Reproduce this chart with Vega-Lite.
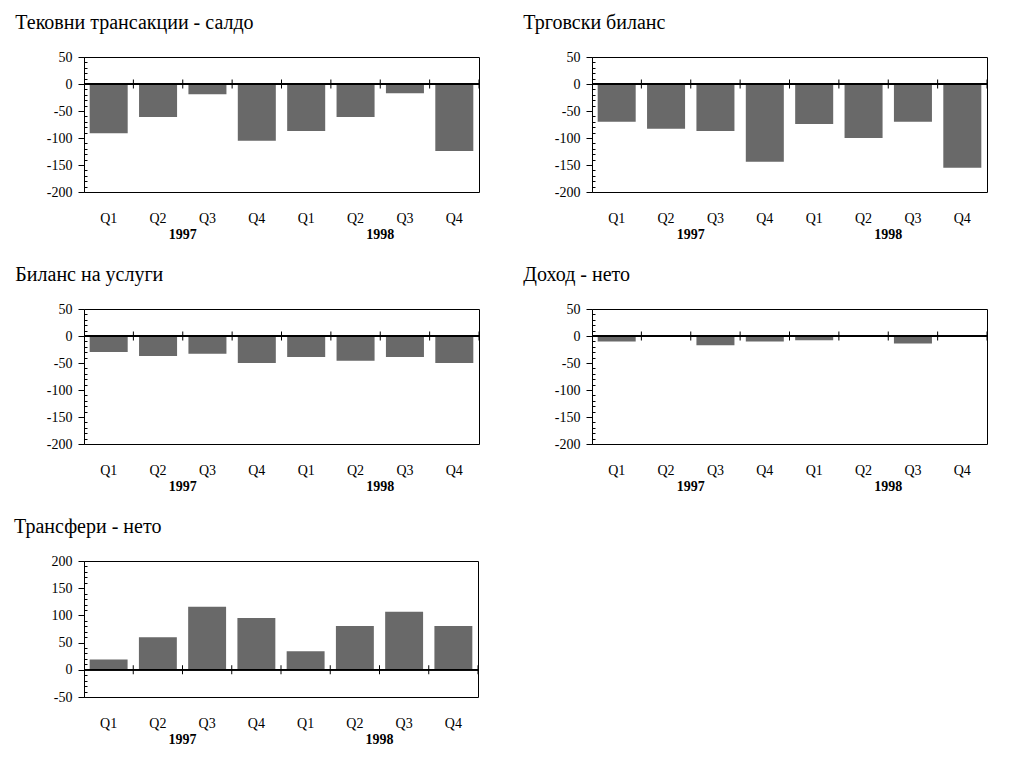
{
  "$schema": "https://vega.github.io/schema/vega-lite/v6.json",
  "background": "white",
  "padding": {"left": 13, "top": 12, "right": 0, "bottom": 0},
  "config": {
    "font": "Liberation Serif",
    "view": {"stroke": "black", "strokeWidth": 1},
    "axis": {"labelFont": "Liberation Serif", "labelColor": "black", "domainColor": "black", "tickColor": "black", "grid": false, "title": null},
    "axisX": {"ticks": false, "domain": false, "labelPadding": 19, "labelFontSize": 14, "labelAngle": 0, "labelExpr": "slice(datum.value, 5)"},
    "axisY": {"labelPadding": 6, "labelFontSize": 14, "labelOverlap": false, "labelExpr": "datum.value % 50 === 0 ? '' + datum.value : ''"},
    "title": {"font": "Liberation Serif", "fontSize": 20, "fontWeight": "normal", "color": "black", "anchor": "start", "offset": 17},
    "bar": {"color": "#696969"},
    "rule": {"color": "black"},
    "tick": {"color": "black", "opacity": 1, "orient": "vertical", "size": 9, "thickness": 1},
    "text": {"baseline": "top", "fontWeight": "bold", "fontSize": 14, "dy": 36, "color": "black"}
  },
  "datasets": {
    "tek": [
      {"period": "1997 Q1", "year": "1997", "value": -91},
      {"period": "1997 Q2", "year": "1997", "value": -61},
      {"period": "1997 Q3", "year": "1997", "value": -19},
      {"period": "1997 Q4", "year": "1997", "value": -105},
      {"period": "1998 Q1", "year": "1998", "value": -87},
      {"period": "1998 Q2", "year": "1998", "value": -61},
      {"period": "1998 Q3", "year": "1998", "value": -17},
      {"period": "1998 Q4", "year": "1998", "value": -124}
    ],
    "trg": [
      {"period": "1997 Q1", "year": "1997", "value": -70},
      {"period": "1997 Q2", "year": "1997", "value": -83},
      {"period": "1997 Q3", "year": "1997", "value": -87},
      {"period": "1997 Q4", "year": "1997", "value": -144},
      {"period": "1998 Q1", "year": "1998", "value": -74},
      {"period": "1998 Q2", "year": "1998", "value": -100},
      {"period": "1998 Q3", "year": "1998", "value": -70},
      {"period": "1998 Q4", "year": "1998", "value": -155}
    ],
    "usl": [
      {"period": "1997 Q1", "year": "1997", "value": -29.5},
      {"period": "1997 Q2", "year": "1997", "value": -37},
      {"period": "1997 Q3", "year": "1997", "value": -33},
      {"period": "1997 Q4", "year": "1997", "value": -50},
      {"period": "1998 Q1", "year": "1998", "value": -39},
      {"period": "1998 Q2", "year": "1998", "value": -46},
      {"period": "1998 Q3", "year": "1998", "value": -39},
      {"period": "1998 Q4", "year": "1998", "value": -50}
    ],
    "doh": [
      {"period": "1997 Q1", "year": "1997", "value": -10},
      {"period": "1997 Q2", "year": "1997", "value": -1.5},
      {"period": "1997 Q3", "year": "1997", "value": -17},
      {"period": "1997 Q4", "year": "1997", "value": -10},
      {"period": "1998 Q1", "year": "1998", "value": -8},
      {"period": "1998 Q2", "year": "1998", "value": 2},
      {"period": "1998 Q3", "year": "1998", "value": -14},
      {"period": "1998 Q4", "year": "1998", "value": 0}
    ],
    "tra": [
      {"period": "1997 Q1", "year": "1997", "value": 19},
      {"period": "1997 Q2", "year": "1997", "value": 60},
      {"period": "1997 Q3", "year": "1997", "value": 116},
      {"period": "1997 Q4", "year": "1997", "value": 95},
      {"period": "1998 Q1", "year": "1998", "value": 34},
      {"period": "1998 Q2", "year": "1998", "value": 80.5},
      {"period": "1998 Q3", "year": "1998", "value": 106.5},
      {"period": "1998 Q4", "year": "1998", "value": 80.5}
    ]
  },
  "concat": [
    {
      "spacing": 41,
      "hconcat": [
        {
          "title": {"text": "Тековни трансакции - салдо", "dx": -31},
          "width": 395, "height": 135,
          "data": {"name": "tek"},
          "layer": [
            {"mark": "bar",
             "encoding": {
               "x": {"field": "period", "type": "ordinal", "sort": null, "scale": {"paddingInner": 0.23, "paddingOuter": 0.115}, "axis": {"title": null}},
               "y": {"field": "value", "type": "quantitative", "scale": {"domain": [-200, 50], "nice": false},
                     "axis": {"values": [-200,-190,-180,-170,-160,-150,-140,-130,-120,-110,-100,-90,-80,-70,-60,-50,-40,-30,-20,-10,0,10,20,30,40,50], "tickSize": {"condition": {"test": "datum.value % 50 === 0", "value": 6}, "value": -3}, "title": null}}
             }},
            {"mark": "rule",
             "encoding": {"y": {"datum": 0, "type": "quantitative", "scale": {"domain": [-200, 50], "nice": false},
                     "axis": {"values": [-200,-190,-180,-170,-160,-150,-140,-130,-120,-110,-100,-90,-80,-70,-60,-50,-40,-30,-20,-10,0,10,20,30,40,50], "tickSize": {"condition": {"test": "datum.value % 50 === 0", "value": 6}, "value": -3}, "title": null}}}},
            {"mark": {"type": "tick", "xOffset": 5.68},
             "encoding": {
               "x": {"field": "period", "type": "ordinal", "sort": null, "bandPosition": 1, "scale": {"paddingInner": 0.23, "paddingOuter": 0.115}, "axis": {"title": null}},
               "y": {"datum": 0, "type": "quantitative", "scale": {"domain": [-200, 50], "nice": false},
                     "axis": {"values": [-200,-190,-180,-170,-160,-150,-140,-130,-120,-110,-100,-90,-80,-70,-60,-50,-40,-30,-20,-10,0,10,20,30,40,50], "tickSize": {"condition": {"test": "datum.value % 50 === 0", "value": 6}, "value": -3}, "title": null}}
             }},
            {"transform": [{"filter": "indexof(datum.period, 'Q2') >= 0"}],
             "mark": {"type": "text", "xOffset": 24.7},
             "encoding": {
               "x": {"field": "period", "type": "ordinal", "sort": null, "scale": {"paddingInner": 0.23, "paddingOuter": 0.115}, "axis": {"title": null}},
               "y": {"datum": -200, "type": "quantitative", "scale": {"domain": [-200, 50], "nice": false},
                     "axis": {"values": [-200,-190,-180,-170,-160,-150,-140,-130,-120,-110,-100,-90,-80,-70,-60,-50,-40,-30,-20,-10,0,10,20,30,40,50], "tickSize": {"condition": {"test": "datum.value % 50 === 0", "value": 6}, "value": -3}, "title": null}},
               "text": {"field": "year"}
             }}
          ]
        },
        {
          "title": {"text": "Трговски биланс", "dx": -31},
          "width": 395, "height": 135,
          "data": {"name": "trg"},
          "layer": [
            {"mark": "bar",
             "encoding": {
               "x": {"field": "period", "type": "ordinal", "sort": null, "scale": {"paddingInner": 0.23, "paddingOuter": 0.115}, "axis": {"title": null}},
               "y": {"field": "value", "type": "quantitative", "scale": {"domain": [-200, 50], "nice": false},
                     "axis": {"values": [-200,-190,-180,-170,-160,-150,-140,-130,-120,-110,-100,-90,-80,-70,-60,-50,-40,-30,-20,-10,0,10,20,30,40,50], "tickSize": {"condition": {"test": "datum.value % 50 === 0", "value": 6}, "value": -3}, "title": null}}
             }},
            {"mark": "rule",
             "encoding": {"y": {"datum": 0, "type": "quantitative", "scale": {"domain": [-200, 50], "nice": false},
                     "axis": {"values": [-200,-190,-180,-170,-160,-150,-140,-130,-120,-110,-100,-90,-80,-70,-60,-50,-40,-30,-20,-10,0,10,20,30,40,50], "tickSize": {"condition": {"test": "datum.value % 50 === 0", "value": 6}, "value": -3}, "title": null}}}},
            {"mark": {"type": "tick", "xOffset": 5.68},
             "encoding": {
               "x": {"field": "period", "type": "ordinal", "sort": null, "bandPosition": 1, "scale": {"paddingInner": 0.23, "paddingOuter": 0.115}, "axis": {"title": null}},
               "y": {"datum": 0, "type": "quantitative", "scale": {"domain": [-200, 50], "nice": false},
                     "axis": {"values": [-200,-190,-180,-170,-160,-150,-140,-130,-120,-110,-100,-90,-80,-70,-60,-50,-40,-30,-20,-10,0,10,20,30,40,50], "tickSize": {"condition": {"test": "datum.value % 50 === 0", "value": 6}, "value": -3}, "title": null}}
             }},
            {"transform": [{"filter": "indexof(datum.period, 'Q2') >= 0"}],
             "mark": {"type": "text", "xOffset": 24.7},
             "encoding": {
               "x": {"field": "period", "type": "ordinal", "sort": null, "scale": {"paddingInner": 0.23, "paddingOuter": 0.115}, "axis": {"title": null}},
               "y": {"datum": -200, "type": "quantitative", "scale": {"domain": [-200, 50], "nice": false},
                     "axis": {"values": [-200,-190,-180,-170,-160,-150,-140,-130,-120,-110,-100,-90,-80,-70,-60,-50,-40,-30,-20,-10,0,10,20,30,40,50], "tickSize": {"condition": {"test": "datum.value % 50 === 0", "value": 6}, "value": -3}, "title": null}},
               "text": {"field": "year"}
             }}
          ]
        }
      ]
    },
    {
      "spacing": 41,
      "hconcat": [
        {
          "title": {"text": "Биланс на услуги", "dx": -31},
          "width": 395, "height": 135,
          "data": {"name": "usl"},
          "layer": [
            {"mark": "bar",
             "encoding": {
               "x": {"field": "period", "type": "ordinal", "sort": null, "scale": {"paddingInner": 0.23, "paddingOuter": 0.115}, "axis": {"title": null}},
               "y": {"field": "value", "type": "quantitative", "scale": {"domain": [-200, 50], "nice": false},
                     "axis": {"values": [-200,-190,-180,-170,-160,-150,-140,-130,-120,-110,-100,-90,-80,-70,-60,-50,-40,-30,-20,-10,0,10,20,30,40,50], "tickSize": {"condition": {"test": "datum.value % 50 === 0", "value": 6}, "value": -3}, "title": null}}
             }},
            {"mark": "rule",
             "encoding": {"y": {"datum": 0, "type": "quantitative", "scale": {"domain": [-200, 50], "nice": false},
                     "axis": {"values": [-200,-190,-180,-170,-160,-150,-140,-130,-120,-110,-100,-90,-80,-70,-60,-50,-40,-30,-20,-10,0,10,20,30,40,50], "tickSize": {"condition": {"test": "datum.value % 50 === 0", "value": 6}, "value": -3}, "title": null}}}},
            {"mark": {"type": "tick", "xOffset": 5.68},
             "encoding": {
               "x": {"field": "period", "type": "ordinal", "sort": null, "bandPosition": 1, "scale": {"paddingInner": 0.23, "paddingOuter": 0.115}, "axis": {"title": null}},
               "y": {"datum": 0, "type": "quantitative", "scale": {"domain": [-200, 50], "nice": false},
                     "axis": {"values": [-200,-190,-180,-170,-160,-150,-140,-130,-120,-110,-100,-90,-80,-70,-60,-50,-40,-30,-20,-10,0,10,20,30,40,50], "tickSize": {"condition": {"test": "datum.value % 50 === 0", "value": 6}, "value": -3}, "title": null}}
             }},
            {"transform": [{"filter": "indexof(datum.period, 'Q2') >= 0"}],
             "mark": {"type": "text", "xOffset": 24.7},
             "encoding": {
               "x": {"field": "period", "type": "ordinal", "sort": null, "scale": {"paddingInner": 0.23, "paddingOuter": 0.115}, "axis": {"title": null}},
               "y": {"datum": -200, "type": "quantitative", "scale": {"domain": [-200, 50], "nice": false},
                     "axis": {"values": [-200,-190,-180,-170,-160,-150,-140,-130,-120,-110,-100,-90,-80,-70,-60,-50,-40,-30,-20,-10,0,10,20,30,40,50], "tickSize": {"condition": {"test": "datum.value % 50 === 0", "value": 6}, "value": -3}, "title": null}},
               "text": {"field": "year"}
             }}
          ]
        },
        {
          "title": {"text": "Доход - нето", "dx": -31},
          "width": 395, "height": 135,
          "data": {"name": "doh"},
          "layer": [
            {"mark": "bar",
             "encoding": {
               "x": {"field": "period", "type": "ordinal", "sort": null, "scale": {"paddingInner": 0.23, "paddingOuter": 0.115}, "axis": {"title": null}},
               "y": {"field": "value", "type": "quantitative", "scale": {"domain": [-200, 50], "nice": false},
                     "axis": {"values": [-200,-190,-180,-170,-160,-150,-140,-130,-120,-110,-100,-90,-80,-70,-60,-50,-40,-30,-20,-10,0,10,20,30,40,50], "tickSize": {"condition": {"test": "datum.value % 50 === 0", "value": 6}, "value": -3}, "title": null}}
             }},
            {"mark": "rule",
             "encoding": {"y": {"datum": 0, "type": "quantitative", "scale": {"domain": [-200, 50], "nice": false},
                     "axis": {"values": [-200,-190,-180,-170,-160,-150,-140,-130,-120,-110,-100,-90,-80,-70,-60,-50,-40,-30,-20,-10,0,10,20,30,40,50], "tickSize": {"condition": {"test": "datum.value % 50 === 0", "value": 6}, "value": -3}, "title": null}}}},
            {"mark": {"type": "tick", "xOffset": 5.68},
             "encoding": {
               "x": {"field": "period", "type": "ordinal", "sort": null, "bandPosition": 1, "scale": {"paddingInner": 0.23, "paddingOuter": 0.115}, "axis": {"title": null}},
               "y": {"datum": 0, "type": "quantitative", "scale": {"domain": [-200, 50], "nice": false},
                     "axis": {"values": [-200,-190,-180,-170,-160,-150,-140,-130,-120,-110,-100,-90,-80,-70,-60,-50,-40,-30,-20,-10,0,10,20,30,40,50], "tickSize": {"condition": {"test": "datum.value % 50 === 0", "value": 6}, "value": -3}, "title": null}}
             }},
            {"transform": [{"filter": "indexof(datum.period, 'Q2') >= 0"}],
             "mark": {"type": "text", "xOffset": 24.7},
             "encoding": {
               "x": {"field": "period", "type": "ordinal", "sort": null, "scale": {"paddingInner": 0.23, "paddingOuter": 0.115}, "axis": {"title": null}},
               "y": {"datum": -200, "type": "quantitative", "scale": {"domain": [-200, 50], "nice": false},
                     "axis": {"values": [-200,-190,-180,-170,-160,-150,-140,-130,-120,-110,-100,-90,-80,-70,-60,-50,-40,-30,-20,-10,0,10,20,30,40,50], "tickSize": {"condition": {"test": "datum.value % 50 === 0", "value": 6}, "value": -3}, "title": null}},
               "text": {"field": "year"}
             }}
          ]
        }
      ]
    },
    {
      "title": {"text": "Трансфери - нето", "dx": -37},
      "width": 394, "height": 136,
      "data": {"name": "tra"},
      "layer": [
        {"mark": "bar",
         "encoding": {
           "x": {"field": "period", "type": "ordinal", "sort": null, "scale": {"paddingInner": 0.23, "paddingOuter": 0.115}, "axis": {"title": null}},
           "y": {"field": "value", "type": "quantitative", "scale": {"domain": [-50, 200], "nice": false},
                 "axis": {"values": [-50,-40,-30,-20,-10,0,10,20,30,40,50,60,70,80,90,100,110,120,130,140,150,160,170,180,190,200], "tickSize": {"condition": {"test": "datum.value % 50 === 0", "value": 6}, "value": -3}, "title": null}}
         }},
        {"mark": "rule",
         "encoding": {"y": {"datum": 0, "type": "quantitative", "scale": {"domain": [-50, 200], "nice": false},
                 "axis": {"values": [-50,-40,-30,-20,-10,0,10,20,30,40,50,60,70,80,90,100,110,120,130,140,150,160,170,180,190,200], "tickSize": {"condition": {"test": "datum.value % 50 === 0", "value": 6}, "value": -3}, "title": null}}}},
        {"mark": {"type": "tick", "xOffset": 5.66},
         "encoding": {
           "x": {"field": "period", "type": "ordinal", "sort": null, "bandPosition": 1, "scale": {"paddingInner": 0.23, "paddingOuter": 0.115}, "axis": {"title": null}},
           "y": {"datum": 0, "type": "quantitative", "scale": {"domain": [-50, 200], "nice": false},
                 "axis": {"values": [-50,-40,-30,-20,-10,0,10,20,30,40,50,60,70,80,90,100,110,120,130,140,150,160,170,180,190,200], "tickSize": {"condition": {"test": "datum.value % 50 === 0", "value": 6}, "value": -3}, "title": null}}
         }},
        {"transform": [{"filter": "indexof(datum.period, 'Q2') >= 0"}],
         "mark": {"type": "text", "xOffset": 24.6},
         "encoding": {
           "x": {"field": "period", "type": "ordinal", "sort": null, "scale": {"paddingInner": 0.23, "paddingOuter": 0.115}, "axis": {"title": null}},
           "y": {"datum": -50, "type": "quantitative", "scale": {"domain": [-50, 200], "nice": false},
                 "axis": {"values": [-50,-40,-30,-20,-10,0,10,20,30,40,50,60,70,80,90,100,110,120,130,140,150,160,170,180,190,200], "tickSize": {"condition": {"test": "datum.value % 50 === 0", "value": 6}, "value": -3}, "title": null}},
           "text": {"field": "year"}
         }}
      ]
    }
  ],
  "columns": 1,
  "align": "none",
  "spacing": 21
}
